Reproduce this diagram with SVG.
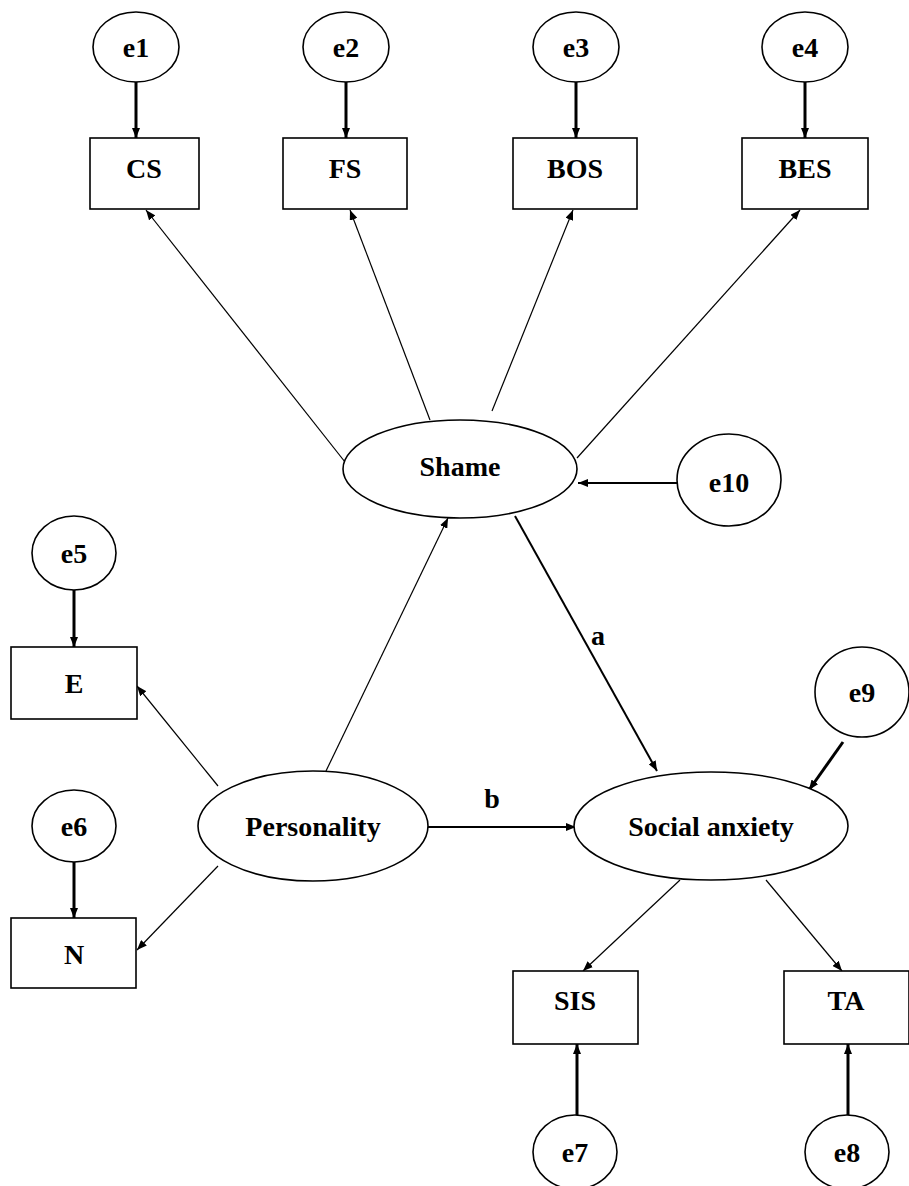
<svg xmlns="http://www.w3.org/2000/svg" width="909" height="1186" viewBox="0 0 909 1186">
<style>
.n{fill:#fff;stroke:#000;stroke-width:1.6}
.t{font-family:"Liberation Serif","Times New Roman",serif;font-weight:bold;font-size:28px;text-anchor:middle;fill:#000}
.th{stroke:#000;stroke-width:3;fill:none}
.tn{stroke:#000;stroke-width:1.2;fill:none}
.md{stroke:#000;stroke-width:2;fill:none}
</style>
<defs>
<marker id="ah" markerUnits="userSpaceOnUse" markerWidth="10" markerHeight="8" refX="10" refY="4" orient="auto">
<path d="M0,0 L10,4 L0,8 z" fill="#000"/>
</marker>
</defs>
<rect width="909" height="1186" fill="#fff"/>
<g id="connectors">
<line class="th" x1="136" y1="82" x2="136" y2="138" marker-end="url(#ah)"/>
<line class="th" x1="346" y1="82" x2="346" y2="138" marker-end="url(#ah)"/>
<line class="th" x1="576" y1="82" x2="576" y2="138" marker-end="url(#ah)"/>
<line class="th" x1="805" y1="82" x2="805" y2="138" marker-end="url(#ah)"/>
<line class="tn" x1="345" y1="462" x2="146" y2="210" marker-end="url(#ah)"/>
<line class="tn" x1="430" y1="420" x2="350" y2="210" marker-end="url(#ah)"/>
<line class="tn" x1="492" y1="411" x2="573" y2="210" marker-end="url(#ah)"/>
<line class="tn" x1="577" y1="458" x2="800" y2="210" marker-end="url(#ah)"/>
<line class="md" x1="677" y1="483" x2="578" y2="483" marker-end="url(#ah)"/>
<line class="tn" x1="326" y1="771" x2="448" y2="518" marker-end="url(#ah)"/>
<line class="md" x1="515" y1="516" x2="657" y2="771" marker-end="url(#ah)"/>
<line class="tn" x1="218" y1="786" x2="137" y2="686" marker-end="url(#ah)"/>
<line class="tn" x1="218" y1="866" x2="137" y2="950" marker-end="url(#ah)"/>
<line class="th" x1="74" y1="590" x2="74" y2="647" marker-end="url(#ah)"/>
<line class="th" x1="74" y1="862" x2="74" y2="918" marker-end="url(#ah)"/>
<line class="md" x1="428" y1="827" x2="576" y2="827" marker-end="url(#ah)"/>
<line class="th" x1="843" y1="742" x2="809" y2="790" marker-end="url(#ah)"/>
<line class="tn" x1="680" y1="880" x2="583" y2="971" marker-end="url(#ah)"/>
<line class="tn" x1="766" y1="880" x2="842" y2="971" marker-end="url(#ah)"/>
<line class="th" x1="577" y1="1115" x2="577" y2="1044" marker-end="url(#ah)"/>
<line class="th" x1="848" y1="1115" x2="848" y2="1044" marker-end="url(#ah)"/>
<text class="t" x="598" y="645">a</text>
<text class="t" x="492" y="808">b</text>
</g>
<g id="e1"><ellipse class="n" cx="136" cy="47" rx="43" ry="35"/><text class="t" x="136" y="57">e1</text></g>
<g id="e2"><ellipse class="n" cx="346" cy="47" rx="43" ry="35"/><text class="t" x="346" y="57">e2</text></g>
<g id="e3"><ellipse class="n" cx="576" cy="47" rx="43" ry="35"/><text class="t" x="576" y="57">e3</text></g>
<g id="e4"><ellipse class="n" cx="805" cy="47" rx="43" ry="35"/><text class="t" x="805" y="57">e4</text></g>
<g id="CS"><rect class="n" x="90" y="138" width="109" height="71"/><text class="t" x="144" y="178">CS</text></g>
<g id="FS"><rect class="n" x="283" y="138" width="124" height="71"/><text class="t" x="345" y="178">FS</text></g>
<g id="BOS"><rect class="n" x="513" y="138" width="124" height="71"/><text class="t" x="575" y="178">BOS</text></g>
<g id="BES"><rect class="n" x="742" y="138" width="126" height="71"/><text class="t" x="805" y="178">BES</text></g>
<g id="Shame"><ellipse class="n" cx="460" cy="469" rx="117" ry="49"/><text class="t" x="460" y="476">Shame</text></g>
<g id="e10"><ellipse class="n" cx="729" cy="480" rx="52" ry="46"/><text class="t" x="729" y="492">e10</text></g>
<g id="e5"><ellipse class="n" cx="74" cy="553" rx="42" ry="37"/><text class="t" x="74" y="563">e5</text></g>
<g id="E"><rect class="n" x="11" y="647" width="126" height="72"/><text class="t" x="74" y="693">E</text></g>
<g id="e6"><ellipse class="n" cx="74" cy="826" rx="42" ry="36"/><text class="t" x="74" y="836">e6</text></g>
<g id="N"><rect class="n" x="11" y="918" width="125" height="70"/><text class="t" x="74" y="964">N</text></g>
<g id="Personality"><ellipse class="n" cx="313" cy="826" rx="115" ry="55"/><text class="t" x="313" y="836">Personality</text></g>
<g id="SocialAnxiety"><ellipse class="n" cx="711" cy="826" rx="137" ry="54"/><text class="t" x="711" y="836">Social anxiety</text></g>
<g id="e9"><ellipse class="n" cx="862" cy="692" rx="47" ry="45"/><text class="t" x="862" y="702">e9</text></g>
<g id="SIS"><rect class="n" x="513" y="971" width="125" height="73"/><text class="t" x="575" y="1010">SIS</text></g>
<g id="TA"><rect class="n" x="784" y="971" width="125" height="73"/><text class="t" x="846" y="1010">TA</text></g>
<g id="e7"><ellipse class="n" cx="575" cy="1152" rx="42" ry="37"/><text class="t" x="575" y="1162">e7</text></g>
<g id="e8"><ellipse class="n" cx="847" cy="1152" rx="42" ry="37"/><text class="t" x="847" y="1162">e8</text></g>
</svg>
